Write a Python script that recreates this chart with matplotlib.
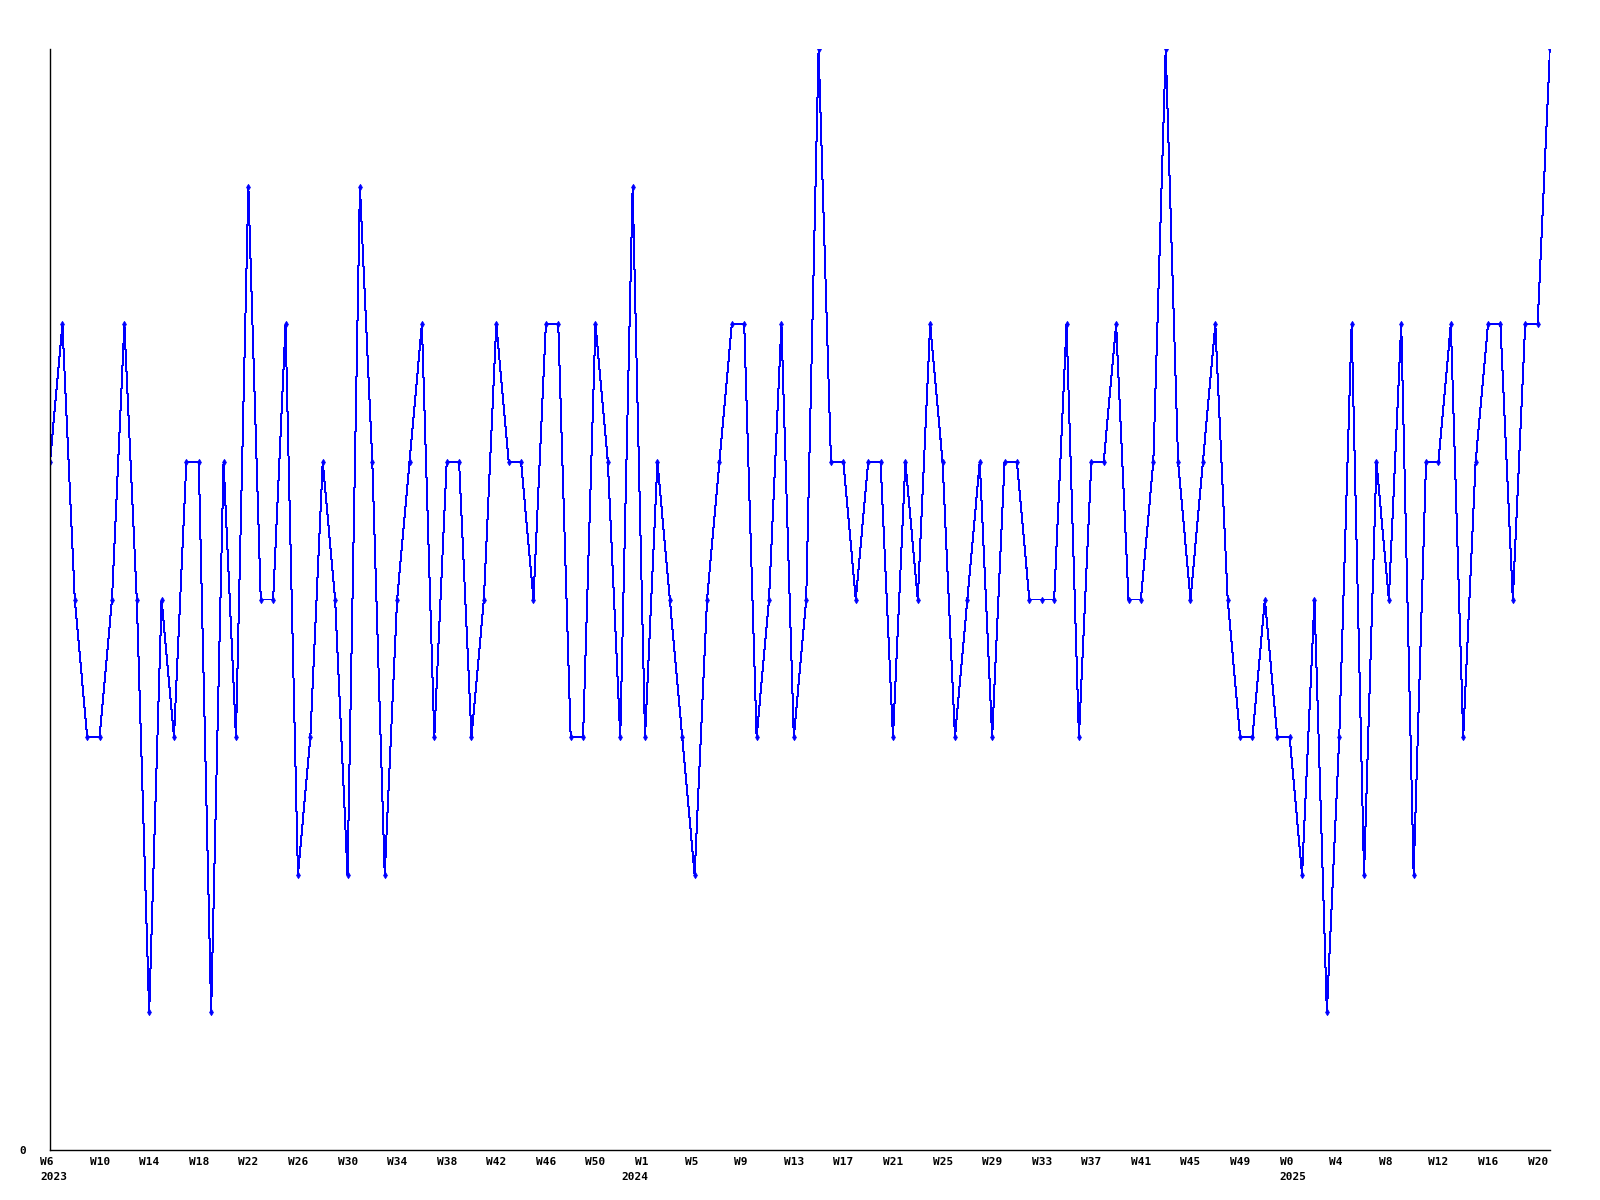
import matplotlib
matplotlib.use("Agg")
import matplotlib.pyplot as plt
import matplotlib.transforms as mtransforms

# Data: weekly values, 2023 W6 .. 2025 W21
values = [
    5, 6, 4, 3, 3, 4, 6, 4, 1, 4, 3, 5, 5, 1, 5, 3,
    7, 4, 4, 6, 2, 3, 5, 4, 2, 7, 5, 2, 4, 5, 6,
    3, 5, 5, 3, 4, 6, 5, 5, 4, 6, 6, 3, 3, 6, 5, 3,
    7, 3, 5, 4, 3, 2, 4, 5, 6, 6, 3, 4, 6, 3, 4,
    8, 5, 5, 4, 5, 5, 3, 5, 4, 6, 5, 3, 4, 5, 3,
    5, 5, 4, 4, 4, 6, 3, 5, 5, 6, 4, 4, 5, 8, 5, 4,
    5, 6, 4, 3, 3, 4, 3, 3, 2, 4, 1, 3, 6, 2, 5,
    4, 6, 2, 5, 5, 6, 3, 5, 6, 6, 4, 6, 6, 8,
]

# one label every 4 weeks
week_labels = [
    "W6", "W10", "W14", "W18", "W22", "W26", "W30", "W34", "W38",
    "W42", "W46", "W50",
    "W1", "W5", "W9", "W13", "W17", "W21", "W25", "W29", "W33",
    "W37", "W41", "W45", "W49",
    "W0", "W4", "W8", "W12", "W16", "W20",
]
label_step = 4

years = ["2023", "2024", "2025"]
year_at = [0, 46.9, 100]   # week index where each year label sits

x = list(range(len(values)))

fig = plt.figure(figsize=(16, 12), dpi=100)
ax = fig.add_axes([50 / 1600, 50 / 1200, 1500 / 1600, 1101 / 1200])

ax.plot(x, values, color="#0000ff", linewidth=0.72, marker="d",
        markersize=3.2, markeredgewidth=0.6, antialiased=False)

ax.set_xlim(0, len(values) - 1)
ax.set_ylim(0, 8)

for side in ["top", "right"]:
    ax.spines[side].set_visible(False)
for side in ["left", "bottom"]:
    ax.spines[side].set_linewidth(1.0)
    ax.spines[side].set_color("black")

font = dict(family="DejaVu Sans Mono", weight="bold", size=8)

ax.set_xticks(x[::label_step])
ax.set_xticklabels(week_labels, ha="left", **font)
ax.set_yticks([0])
ax.set_yticklabels(["0"], **font)
ax.tick_params(axis="x", length=0, pad=5)
ax.tick_params(axis="y", length=0, pad=17)

# labels start a little left of their tick
shift = mtransforms.ScaledTranslation(-10 / 100, 0, fig.dpi_scale_trans)
for lbl in ax.get_xticklabels():
    lbl.set_transform(lbl.get_transform() + shift)

year_shift = mtransforms.ScaledTranslation(-10 / 100, -27 / 100, fig.dpi_scale_trans)
for yr, pos in zip(years, year_at):
    ax.text(pos, 0, yr, transform=ax.get_xaxis_transform() + year_shift,
            ha="left", va="center", clip_on=False, **font)

fig.savefig("out.png", dpi=100, facecolor="white")
